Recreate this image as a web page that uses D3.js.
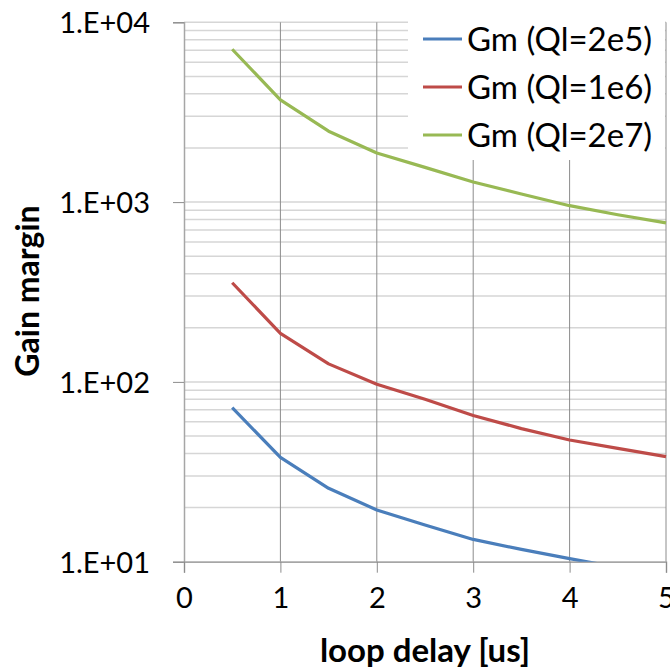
<!DOCTYPE html>
<html>
<head>
<meta charset="utf-8">
<script src="https://cdn.jsdelivr.net/npm/d3@7"></script>
<style>
  body { margin: 0; background: #fff; }
  text { font-family: Lato, "Open Sans", sans-serif; fill: #000; }
</style>
</head>
<body>
<div id="chart"></div>
<script>
var delays = [0.5, 1, 1.5, 2, 2.5, 3, 3.5, 4, 4.5, 5];
var gmQl2e5 = [72, 38, 25.6, 19.4, 16.0, 13.3, 11.7, 10.4, 9.3, 8.4];
var gmQl1e6 = [356, 186, 126, 97, 80, 65, 55, 47.5, 42.7, 38.4];
var gmQl2e7 = [7080, 3700, 2480, 1875, 1560, 1294, 1110, 955, 850, 767];
var seriesNames = ["Gm (Ql=2e5)", "Gm (Ql=1e6)", "Gm (Ql=2e7)"];
var xTicks = [0, 1, 2, 3, 4, 5];
var yTicks = [10, 100, 1000, 10000];
var yTickLabels = ["1.E+01", "1.E+02", "1.E+03", "1.E+04"];

var svgWidth = 670, svgHeight = 671;
var margin = {top: 22.3, right: 4, bottom: 109.3, left: 184};
var width = svgWidth - margin.left - margin.right;
var height = svgHeight - margin.top - margin.bottom;
var colors = ["#4a7ebb", "#be4b48", "#98b954"];

var svg = d3.select("#chart").append("svg")
  .attr("width", svgWidth)
  .attr("height", svgHeight);
var g = svg.append("g")
  .attr("transform", `translate(${margin.left}, ${margin.top})`);

var x = d3.scaleLinear().domain([0, 5]).range([0, width]);
var y = d3.scaleLog().domain([10, 10000]).range([height, 0]);

// minor + major horizontal gridlines
var minor = [];
[10, 100, 1000].forEach(d => { for (var k = 1; k <= 10; k++) minor.push(d * k); });
minor = Array.from(new Set(minor));
g.selectAll(".hgrid").data(minor).enter().append("line")
  .attr("x1", 0).attr("x2", width)
  .attr("y1", d => y(d)).attr("y2", d => y(d))
  .attr("stroke", "#d6d6d6").attr("stroke-width", 1.5);

// vertical gridlines
g.selectAll(".vgrid").data(xTicks.slice(1)).enter().append("line")
  .attr("x1", d => x(d)).attr("x2", d => x(d))
  .attr("y1", 0).attr("y2", height)
  .attr("stroke", "#8c8c8c").attr("stroke-width", 1);

// axes
var leftAxis = d3.axisLeft(y).tickValues(yTicks)
  .tickFormat((d, i) => yTickLabels[i]).tickSize(11).tickPadding(23);
var gy = g.append("g").call(leftAxis);
gy.select(".domain").attr("stroke", "#a6a6a6").attr("stroke-width", 1.5);
gy.selectAll(".tick line").attr("stroke", "#8c8c8c");
gy.selectAll("text").style("font-size", "29px").attr("dy", "0.36em");

var bottomAxis = d3.axisBottom(x).tickValues(xTicks)
  .tickFormat(d3.format("d")).tickSize(11).tickPadding(15);
var gx = g.append("g").attr("transform", `translate(0, ${height})`).call(bottomAxis);
gx.select(".domain").attr("stroke", "#a6a6a6").attr("stroke-width", 1.5);
gx.selectAll(".tick line").attr("stroke", "#8c8c8c");
gx.selectAll("text").style("font-size", "29px");

// series
var series = [gmQl2e5, gmQl1e6, gmQl2e7];
svg.append("clipPath").attr("id", "clip").append("rect")
  .attr("x", -2).attr("y", -2).attr("width", width + 4).attr("height", height + 2);
var line = d3.line().x((d, i) => x(delays[i])).y(d => y(d));
g.append("g").attr("clip-path", "url(#clip)")
  .selectAll("path").data(series).enter().append("path")
  .attr("d", line)
  .attr("fill", "none")
  .attr("stroke", (d, i) => colors[i])
  .attr("stroke-width", 3.2)
  .attr("stroke-linejoin", "round");

// legend
var legend = svg.append("g");
legend.append("rect")
  .attr("x", 408).attr("y", 14).attr("width", 257).attr("height", 146)
  .attr("fill", "#fff");
var items = legend.selectAll(".item").data(seriesNames).enter().append("g")
  .attr("transform", (d, i) => `translate(423, ${39 + i * 48})`);
items.append("line")
  .attr("x1", 0).attr("x2", 39)
  .attr("stroke", (d, i) => colors[i]).attr("stroke-width", 3.2);
items.append("text")
  .attr("x", 44).attr("dy", "0.36em")
  .style("font-size", "33px")
  .text(d => d);

// axis titles
svg.append("text")
  .attr("x", 425).attr("y", 662)
  .attr("text-anchor", "middle")
  .style("font-size", "33px").style("font-weight", "bold")
  .text("loop delay [us]");
svg.append("text")
  .attr("transform", "translate(39, 291) rotate(-90)")
  .attr("text-anchor", "middle")
  .style("font-size", "32px").style("font-weight", "bold")
  .text("Gain margin");
</script>
</body>
</html>
